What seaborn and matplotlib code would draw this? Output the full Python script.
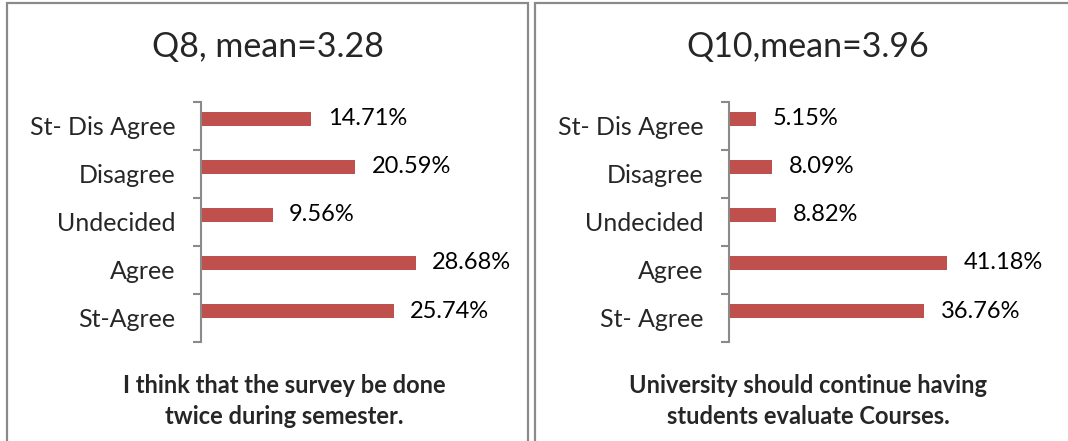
import numpy as np
import pandas as pd
import matplotlib
matplotlib.use("Agg")
import matplotlib.pyplot as plt
from matplotlib.patches import Rectangle
import seaborn as sns

# data
q8_labels = ["St- Dis Agree", "Disagree", "Undecided", "Agree", "St-Agree"]
q8_values = [14.71, 20.59, 9.56, 28.68, 25.74]
q8_title = "Q8, mean=3.28"
q8_caption = "I think that the survey be done\ntwice during semester."

q10_labels = ["St- Dis Agree", "Disagree", "Undecided", "Agree", "St- Agree"]
q10_values = [5.15, 8.09, 8.82, 41.18, 36.76]
q10_title = "Q10,mean=3.96"
q10_caption = "University should continue having\nstudents evaluate Courses."

sns.set_style("white")
plt.rcParams["font.family"] = ["Lato", "DejaVu Sans"]

BAR = "#C0504D"
GREY = "#8a8a8a"
W, H = 1068, 441

fig = plt.figure(figsize=(W / 100, H / 100), dpi=100)


def panel(x0, x1, ax_left, ax_width, xmax, labels, values, title, title_x, caption, cap_x):
    # panel frame (runs off the bottom / right of the picture)
    fig.patches.append(Rectangle((x0 / W, -0.2), (x1 - x0) / W, (H - 3) / H + 0.2,
                                 transform=fig.transFigure, fill=False,
                                 edgecolor=GREY, linewidth=1.6, zorder=0))

    # second, empty series keeps the bar shifted up like the original chart
    df = pd.DataFrame({
        "answer": labels * 2,
        "pct": values + [0] * len(values),
        "series": ["share"] * len(values) + ["blank"] * len(values),
    })
    ax = fig.add_axes([ax_left / W, (H - 342) / H, ax_width / W, 240.3 / H])
    sns.barplot(data=df, y="answer", x="pct", hue="series", order=labels,
                hue_order=["share", "blank"], palette={"share": BAR, "blank": BAR},
                dodge=True, width=0.58, linewidth=0, saturation=1, legend=False, ax=ax)
    ax.bar_label(ax.containers[0], labels=[f"{v:.2f}%" for v in values],
                 padding=12, fontsize=17, color="black")

    ax.set_xlim(0, xmax)
    ax.set_ylim(4.5, -0.5)
    ax.set_xlabel("")
    ax.set_ylabel("")
    ax.xaxis.set_visible(False)
    for side in ["top", "right", "bottom"]:
        ax.spines[side].set_visible(False)
    ax.spines["left"].set_color(GREY)
    ax.spines["left"].set_linewidth(1.5)
    ax.set_yticks(np.arange(-0.5, 5, 1), minor=True)
    ax.tick_params(axis="y", which="major", left=False, pad=15, labelsize=18)
    ax.tick_params(axis="y", which="minor", left=True, length=5.5, width=1.5,
                   color=GREY, direction="out")

    fig.text(title_x / W, 1 - 47 / H, title, ha="center", va="center", fontsize=24.5)
    fig.text(cap_x / W, 1 - 401 / H, caption, ha="center", va="center",
             fontsize=17, fontweight="bold", linespacing=1.45)


panel(7, 528, 201, 262, 35, q8_labels, q8_values, q8_title, 268, q8_caption, 284)
panel(535, 1090, 729, 265, 50, q10_labels, q10_values, q10_title, 808, q10_caption, 808)

fig.savefig("out.png", dpi=100)
